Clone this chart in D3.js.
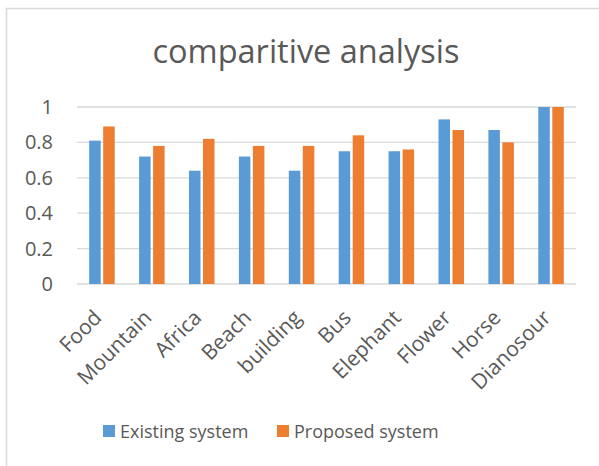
<!DOCTYPE html>
<html>
<head>
<meta charset="utf-8">
<script src="https://cdn.jsdelivr.net/npm/d3@7"></script>
<style>
  body { margin: 0; background: #fff; }
  text { font-family: "Open Sans", sans-serif; fill: #595959; }
</style>
</head>
<body>
<div id="chart"></div>
<script>
var categories = ["Food", "Mountain", "Africa", "Beach", "building", "Bus", "Elephant", "Flower", "Horse", "Dianosour"];
var existing = [0.81, 0.72, 0.64, 0.72, 0.64, 0.75, 0.75, 0.93, 0.87, 1.0];
var proposed = [0.89, 0.78, 0.82, 0.78, 0.78, 0.84, 0.76, 0.87, 0.80, 1.0];
var seriesNames = ["Existing system", "Proposed system"];
var yTicks = [0, 0.2, 0.4, 0.6, 0.8, 1];

var width = 599, height = 466;
var margin = {top: 107, bottom: 185, left: 77, right: 23};
var colors = ["#5B9BD5", "#ED7D31"];

var svg = d3.select("#chart").append("svg")
  .attr("width", width)
  .attr("height", height);

// chart border
svg.append("path")
  .attr("d", "M6.5," + height + "V8.5H" + width)
  .attr("fill", "none")
  .attr("stroke", "#d9d9d9")
  .attr("stroke-width", 1.5);

var x = d3.scaleBand()
  .domain(categories)
  .range([margin.left, width - margin.right]);

var y = d3.scaleLinear()
  .domain([0, 1])
  .range([height - margin.bottom + 3, margin.top]);

// title
svg.append("text")
  .attr("x", 306)
  .attr("y", 63)
  .attr("text-anchor", "middle")
  .style("font-size", "32.5px")
  .text("comparitive analysis");

// gridlines
svg.append("g").selectAll("line")
  .data(yTicks)
  .enter().append("line")
  .attr("x1", margin.left)
  .attr("x2", width - margin.right)
  .attr("y1", function(d) { return y(d); })
  .attr("y2", function(d) { return y(d); })
  .attr("stroke", "#d9d9d9")
  .attr("stroke-width", 1.3);

// y labels
svg.append("g").selectAll("text")
  .data(yTicks)
  .enter().append("text")
  .attr("x", 53)
  .attr("y", function(d) { return y(d); })
  .attr("dy", "0.35em")
  .attr("text-anchor", "end")
  .style("font-size", "20px")
  .text(function(d) { return d3.format("")(d); });

// bars
var barW = 11.5, gap = 2.5;
[existing, proposed].forEach(function(vals, s) {
  svg.append("g").selectAll("rect")
    .data(vals)
    .enter().append("rect")
    .attr("x", function(d, i) {
      var c = x(categories[i]) + x.bandwidth() / 2;
      return s == 0 ? c - gap / 2 - barW : c + gap / 2;
    })
    .attr("width", barW)
    .attr("y", function(d) { return y(d); })
    .attr("height", function(d) { return y(0) - y(d); })
    .attr("fill", colors[s]);
});

// x labels
svg.append("g").selectAll("text")
  .data(categories)
  .enter().append("text")
  .attr("transform", function(d) {
    return "translate(" + (x(d) + x.bandwidth() / 2 + 1) + "," + (y(0) + 35) + ") rotate(-45)";
  })
  .attr("text-anchor", "end")
  .style("font-size", "21px")
  .text(function(d) { return d; });

// legend
var legendX = [103, 277];
seriesNames.forEach(function(name, s) {
  svg.append("rect")
    .attr("x", legendX[s])
    .attr("y", 425)
    .attr("width", 12)
    .attr("height", 12)
    .attr("fill", colors[s]);
  svg.append("text")
    .attr("x", legendX[s] + 17)
    .attr("y", 438)
    .style("font-size", "18px")
    .text(name);
});
</script>
</body>
</html>
